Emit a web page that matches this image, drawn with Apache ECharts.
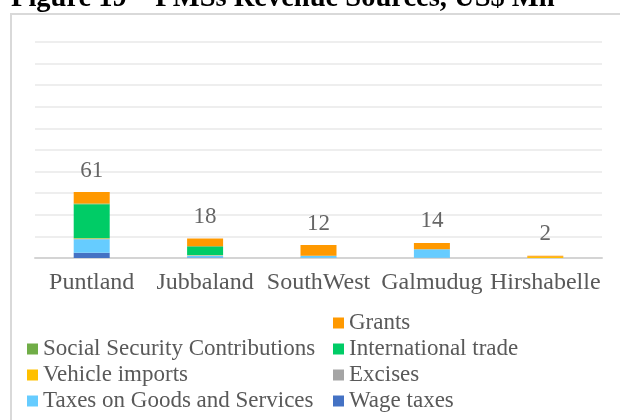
<!DOCTYPE html>
<html>
<head>
<meta charset="utf-8">
<script src="https://cdn.jsdelivr.net/npm/echarts@6/dist/echarts.min.js"></script>
<style>
  html, body { margin: 0; padding: 0; background: #ffffff; }
  #chart { width: 620px; height: 420px; }
</style>
</head>
<body>
<div id="chart"></div>
<script>
// Federal Member States and their revenue sources, US$ Mn
const states = ['Puntland', 'Jubbaland', 'SouthWest', 'Galmudug', 'Hirshabelle'];
const totals = [61, 18, 12, 14, 2];

const wageTaxes          = [4.9, 0.5, 0.3, 0.3, 0];
const goodsServices      = [12.4, 1.8, 1.7, 7.7, 0];
const excises            = [0.5, 0.2, 0, 0, 0];
const vehicleImports     = [0.5, 0.3, 0, 0, 1.2];
const internationalTrade = [31.5, 7.7, 0, 0, 0];
const socialSecurity     = [0.7, 0.5, 0, 0, 0];
const grants             = [10.5, 7.0, 10.0, 6.0, 0.8];

const yTicks = { min: 0, max: 200, interval: 20 };

const serif = '"Liberation Serif", "DejaVu Serif", serif';
const textGrey = '#595959';

function stackSeries(name, data, color) {
  return {
    name: name,
    type: 'bar',
    stack: 'revenue',
    barWidth: 36,
    data: data,
    itemStyle: { color: color },
    emphasis: { disabled: true }
  };
}

const legendText = { color: textGrey, fontSize: 23, fontFamily: serif, lineHeight: 26 };

function legendColumn(left, top, names) {
  return {
    orient: 'vertical',
    left: left,
    top: top,
    height: 110,
    padding: 0,
    itemWidth: 11,
    itemHeight: 11,
    itemGap: 0,
    icon: 'rect',
    selectedMode: false,
    textStyle: legendText,
    data: names
  };
}

const chart = echarts.init(document.getElementById('chart'), null, { renderer: 'canvas' });

chart.setOption({
  animation: false,
  backgroundColor: '#ffffff',
  textStyle: { fontFamily: serif },
  graphic: [
    {
      type: 'text',
      left: 11,
      top: -16,
      style: {
        text: 'Figure 19 – FMSs Revenue Sources, US$ Mn',
        font: 'bold 28.5px ' + serif,
        fill: '#000000'
      }
    },
    {
      type: 'rect',
      shape: { x: 11, y: 14, width: 640, height: 440 },
      style: { fill: 'none', stroke: '#d9d9d9', lineWidth: 2 },
      silent: true
    }
  ],
  grid: { left: 35, right: 18, top: 42, bottom: 162 },
  xAxis: {
    type: 'category',
    data: states,
    axisTick: { show: false },
    axisLine: { lineStyle: { color: '#d4d4d4', width: 2 } },
    axisLabel: { interval: 0, color: textGrey, fontSize: 24, fontFamily: serif, margin: 13 }
  },
  yAxis: {
    type: 'value',
    min: yTicks.min,
    max: yTicks.max,
    interval: yTicks.interval,
    axisLabel: { show: false },
    axisLine: { show: false },
    axisTick: { show: false },
    splitLine: { lineStyle: { color: '#eeeeee', width: 2 } }
  },
  legend: [
    legendColumn(333, 310, ['Grants', 'International trade', 'Excises', 'Wage taxes']),
    legendColumn(27, 336, ['Social Security Contributions', 'Vehicle imports', 'Taxes on Goods and Services'])
  ],
  series: [
    stackSeries('Wage taxes', wageTaxes, '#4472c4'),
    stackSeries('Taxes on Goods and Services', goodsServices, '#66ccff'),
    stackSeries('Excises', excises, '#a5a5a5'),
    stackSeries('Vehicle imports', vehicleImports, '#ffc000'),
    stackSeries('International trade', internationalTrade, '#00cc66'),
    stackSeries('Social Security Contributions', socialSecurity, '#70ad47'),
    stackSeries('Grants', grants, '#ff9900'),
    {
      name: 'Total',
      type: 'scatter',
      data: totals,
      symbolSize: 0,
      silent: true,
      label: {
        show: true,
        position: 'top',
        distance: 10,
        color: '#404040',
        fontSize: 23,
        fontFamily: serif,
        formatter: function (p) { return String(p.value); }
      }
    }
  ]
});
</script>
</body>
</html>
